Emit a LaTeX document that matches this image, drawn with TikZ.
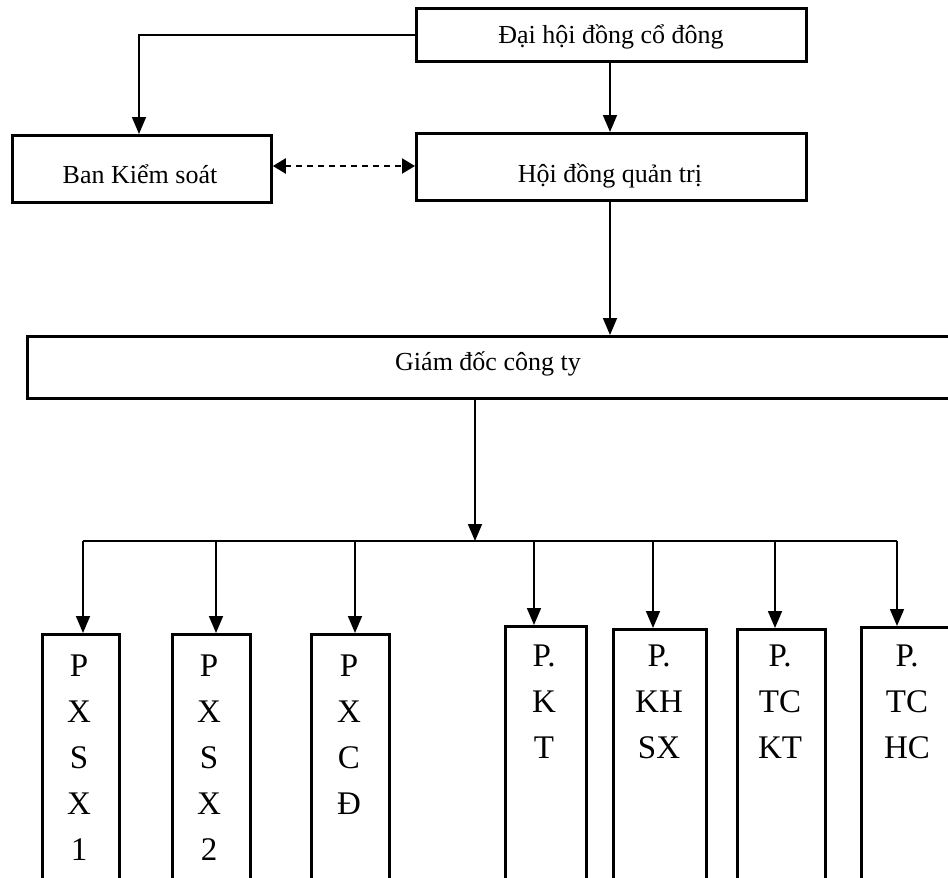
\documentclass[tikz,border=0pt]{standalone}
\usepackage{fontspec}
\setmainfont{Liberation Serif}
\usetikzlibrary{arrows.meta}
\begin{document}
\begin{tikzpicture}[x=1pt,y=-1pt,
  box/.style={draw=black,line width=2.8pt,rectangle,inner sep=0pt,anchor=north west},
  lbl/.style={font=\fontsize{26}{30}\selectfont,inner sep=0pt,anchor=base},
  vlbl/.style={font=\fontsize{33}{46}\selectfont,inner sep=0pt,anchor=north,align=center},
  conn/.style={line width=1.7pt},
  arr/.style={conn,-{Triangle[length=17pt,width=14pt]}},
  darr/.style={line width=2.2pt,dash pattern=on 6pt off 5pt,{Triangle[length=13pt,width=15pt]}-{Triangle[length=13pt,width=15pt]}}]
\clip (0,0) rectangle (948,878);
\fill[white] (0,0) rectangle (948,878);
% top boxes
\node[box,minimum width=390pt,minimum height=53pt] (dh) at (415,7) {};
\node[lbl] (dht) at (611,43) {Đại hội đồng cổ đông};
\node[box,minimum width=259pt,minimum height=67pt] (bk) at (11,134) {};
\node[lbl] (bkt) at (140,183) {Ban Kiểm soát};
\node[box,minimum width=390pt,minimum height=67pt] (hd) at (415,132) {};
\node[lbl] (hdt) at (610,182) {Hội đồng quản trị};
\node[box,minimum width=950pt,minimum height=62pt] (gd) at (26,335) {};
\node[lbl] (gdt) at (488,370) {Giám đốc công ty};
% connectors top
\coordinate (c1) at (139,35);
\draw[arr] (dh.west |- c1) -- (c1) -- (bk.north -| c1);
\draw[arr] (dh.south -| 610,0) -- (hd.north -| 610,0);
\draw[darr] (bk.east |- 0,166) -- (hd.west |- 0,166);
\draw[arr] (hd.south -| 610,0) -- (gd.north -| 610,0);
% bottom boxes
\node[box,minimum width=77pt,minimum height=260pt] (b1) at (41,633) {};
\node[box,minimum width=78pt,minimum height=260pt] (b2) at (171,633) {};
\node[box,minimum width=78pt,minimum height=260pt] (b3) at (310,633) {};
\node[box,minimum width=81pt,minimum height=270pt] (b4) at (504,625) {};
\node[box,minimum width=93pt,minimum height=270pt] (b5) at (612,628) {};
\node[box,minimum width=88pt,minimum height=270pt] (b6) at (736,628) {};
\node[box,minimum width=100pt,minimum height=270pt] (b7) at (860,626) {};
\node[vlbl] (t1) at (79,655) {P\\X\\S\\X\\1};
\node[vlbl] (t2) at (209,655) {P\\X\\S\\X\\2};
\node[vlbl] (t3) at (349,655) {P\\X\\C\\Đ};
\node[vlbl] (t4) at (544,645) {P.\\K\\T};
\node[vlbl] (t5) at (659,645) {P.\\KH\\SX};
\node[vlbl] (t6) at (780,645) {P.\\TC\\KT};
\node[vlbl] (t7) at (907,645) {P.\\TC\\HC};
% bus
\coordinate (bus) at (475,541);
\draw[arr] (gd.south -| bus) -- (bus);
\coordinate (bl) at (83,541);
\coordinate (br) at (897,541);
\draw[conn] (bl) -- (br);
\foreach \n/\x in {b1/83,b2/216,b3/355,b4/534,b5/653,b6/775,b7/897}{
  \draw[arr] (\x,541) -- (\n.north -| \x,0);
}
\end{tikzpicture}
\end{document}
